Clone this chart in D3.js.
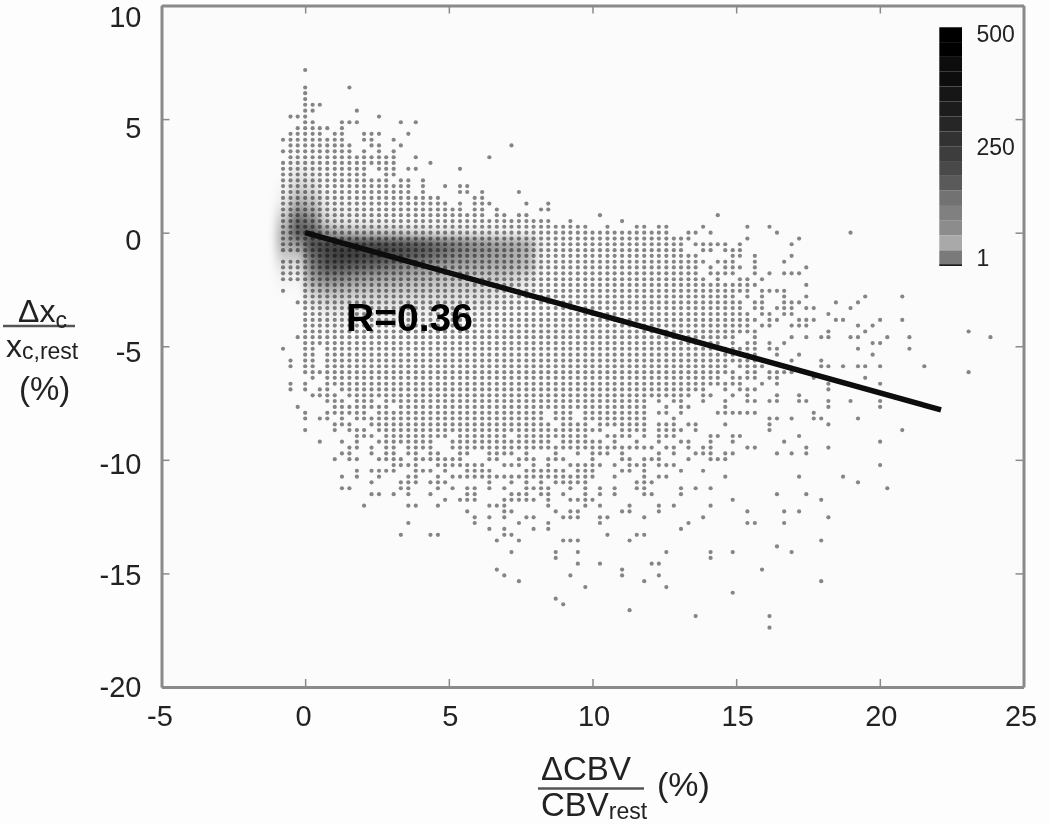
<!DOCTYPE html>
<html lang="en">

<head>
  <meta charset="UTF-8">
  <title>Delta xc vs Delta CBV</title>

  <style>
    html, body {
      margin: 0;
      background-color: #fdfdfd;
    }

    svg {
      display: block;
    }

    text {
      font-family: "Liberation Sans", Arial, sans-serif;
      fill: #222;
    }

    .axis path,
    .axis line {
      stroke: #8a8a8a;
      fill: none;
    }

    .axis path {
      stroke-width: 3;
    }

    .axis line {
      stroke-width: 1.5;
    }

    .axis text {
      font-size: 29px;
    }

    .dot {
      fill: #858585;
    }

    .frac-bar {
      stroke: #555;
      stroke-width: 2.5;
    }
  </style>
</head>

<body>
  <div id="chart"></div>

  <script src="https://d3js.org/d3.v7.min.js"></script>

  <script>
    const xTicks = [-5, 0, 5, 10, 15, 20, 25];
    const yTicks = [10, 5, 0, -5, -10, -15, -20];

    // scatter bins: xBins starts at column -3
    const xBins = [-0.77, -0.51, -0.26, 0, 0.26, 0.51, 0.77, 1.03, 1.28, 1.54, 1.80, 2.05, 2.31, 2.57, 2.82, 3.08,
      3.33, 3.59, 3.85, 4.10, 4.36, 4.62, 4.87, 5.13, 5.39, 5.64, 5.90, 6.16, 6.41, 6.67, 6.93, 7.18, 7.44, 7.70,
      7.95, 8.21, 8.46, 8.72, 8.98, 9.23, 9.49, 9.75, 10.00, 10.26, 10.52, 10.77, 11.03, 11.29, 11.54, 11.80, 12.06,
      12.31, 12.57, 12.83, 13.08, 13.34, 13.59, 13.85, 14.11, 14.36, 14.62, 14.88, 15.13, 15.39, 15.65, 15.90, 16.16,
      16.42, 16.67, 16.93, 17.19, 17.44, 17.70, 17.96, 18.21, 18.47, 18.72, 18.98, 19.24, 19.49, 19.75, 20.01, 20.26,
      20.52, 20.78, 21.03, 21.29, 21.55, 21.80, 22.06, 22.32, 22.57, 22.83, 23.09, 23.34, 23.60, 23.85];

    const yBins = [7.16, 6.90, 6.65, 6.39, 6.14, 5.88, 5.63, 5.37, 5.11, 4.86, 4.60, 4.35, 4.09, 3.84, 3.58, 3.32,
      3.07, 2.81, 2.56, 2.30, 2.05, 1.79, 1.53, 1.28, 1.02, 0.77, 0.51, 0.26, 0, -0.26, -0.51, -0.77, -1.02, -1.28,
      -1.53, -1.79, -2.05, -2.30, -2.56, -2.81, -3.07, -3.32, -3.58, -3.84, -4.09, -4.35, -4.60, -4.86, -5.11, -5.37,
      -5.63, -5.88, -6.14, -6.39, -6.65, -6.90, -7.16, -7.41, -7.67, -7.93, -8.18, -8.44, -8.69, -8.95, -9.20, -9.46,
      -9.72, -9.97, -10.23, -10.48, -10.74, -10.99, -11.25, -11.51, -11.76, -12.02, -12.27, -12.53, -12.78, -13.04,
      -13.30, -13.55, -13.81, -14.06, -14.32, -14.57, -14.83, -15.09, -15.34, -15.60, -15.85, -16.11, -16.36, -16.62,
      -16.88, -17.13, -17.39];

    // filled columns for each y bin, "a:b" is a run of columns
    const filledColumns = [
      "0", "", "", "0 6", "0", "0", "0:2", "0:1 7",
      "-2:0 10",
      "0:1 5:7 13 15",
      "-1:3 5",
      "-2:2 4:5 8:10 14",
      "-3:5 8:9 12",
      "-2:6 9:10 13 28",
      "-3:6 8 10 12",
      "-2:12 15 25",
      "-3:12 17",
      "-3:8 10:12 14:15 21",
      "-3:8 11:12",
      "-3:11 13:14 16",
      "-3:14 16 19 21:22",
      "-3:14 16 21:22 24 29",
      "-3:18 23:24",
      "-3:19 21 23:25 30 33",
      "-3:21 23:24 26 32:33",
      "-3:24 26:27 29:30 40 56",
      "-3:33 36 43",
      "-3:38 41 45:46 48:49 54 60 63",
      "-3:49 52:53 55 64 74",
      "-3:52 60 67",
      "-3:51 53:57 59 66",
      "-3:51 54:55 57:59",
      "0:53 58:59 61 66",
      "-3:54 56:58 61 65",
      "-3:53 55 57:59 61 68",
      "-3:53 55:58 61 63 65:67",
      "-3:54 56 59:60 62",
      "0:61 68",
      "-3 0:60 62:65",
      "0:58 60 62 65 68 76 81",
      "-1 0:59 61:62 65:67 72 75",
      "0:59 61:62 64:66 68:69 74",
      "0:60 62:63 65:66 71",
      "0:61 63:64 67:69 72:73 78 81",
      "0:60 62:63 66:68 75 77",
      "0:61 71 76 90",
      "-1 0:58 61 66 68 70:71 74:75 79 82 93",
      "0:56 58 60:61 63 65 77:78",
      "-3 0:1 3:61 63:64 75 82",
      "0:1 3:61 64 67 77",
      "-2 0:1 3:62 66 70",
      "-2 0:1 3:57 59:62 65 70:71 73 75:76 78 84",
      "0:58 60:61 63:66 90",
      "1 3:56 58:61 63:64 69 76",
      "-2 0 3:59 62 64 71 78",
      "-2 0 2:3 5:54 57 59:61 71",
      "1:4 6:52 54:55 58 60 64 67",
      "3:5 7:9 11:46 48 50:51 54 57 60:61 63:64 67:68 71 74 78",
      "-1 4:11 13:46 49 51:52 57 71 78",
      "0 3:8 10:32 34:36 38:46 48:49 51 56:61 69",
      "0 2:3 5 7:9 10:32 34:36 38:46 50 63:64 66 69:70 75",
      "4:6 9:33 35:38 40:46 48:50 52:53 57 63 71",
      "0 4 6:8 10:40 43:46 48:51 53 63 81",
      "7:9 11:19 21:27 29:38 41:44 46 48:50 55:56 58:59 67",
      "2 5 7 10:17 20:33 35:40 42 45 48 51:52 55 58 65 78",
      "6:7 9 11:12 14:17 20:47 49:50 52 54:55 60:61 68 71",
      "5:6 9 11:12 14:15 17:18 21:22 25:28 30 34 37 39:41 43 48 50 53:55 57:58 64 66 68",
      "4 6:7 10:13 15:21 25:26 29:31 33:35 39 43:44 46:48 52 55:57",
      "12:15 18:24 27:29 31 33 36:40 42 44:46 48:50 78",
      "7 9:12 15:17 19 22:25 30:35 37:39 43:44 46 51 54",
      "5 7 10 14:15 18 20:39 42 46 48:49 57 67 73",
      "9 13:15 17:19 25 28 30 32 34:38 45:47 75",
      "5:6 13:14 18 20 22:23 25 27 30:33 36 38 40 42 45:46 51 53 55 79",
      "9:10 12 14 17 22:23 28:30 32:33 35 38 40 42 46:47 51 64 68",
      "19 21:23 27:31 33 36:39 58 70",
      "8 14:15 18 25:27 33 38 40 44 48 50 55",
      "22 27:28 34 36:37 43:44 48 60 65 67",
      "23 25 27 30:31 35:37 40:41 46 54 71",
      "14 23 29 33 40 52 60:61 65",
      "25 27 31 33 51",
      "13 17:18 27:28 41 45:46",
      "26 29 35:37 44 70",
      "64",
      "28 34 37 49 55 58 66",
      "34 55",
      "37 40 47:48",
      "26 43 62",
      "27 36 43 48",
      "29 46 70",
      "38 49",
      "58",
      "34",
      "35",
      "44",
      "53 63",
      "",
      "63"
    ];

    // counts behind the dots, coarse estimate of the dark cloud
    const cloudX = [-0.75, -0.25, 0.25, 0.75, 1.25, 1.75, 2.25, 2.75, 3.25, 3.75, 4.25, 4.75, 5.25, 5.75, 6.25, 6.75, 7.25, 7.75, 8.25];
    const cloudY = [3, 2.5, 2, 1.5, 1, 0.5, 0, -0.5, -1, -1.5, -2, -2.5, -3, -3.5, -4];
    const cloudCounts = [
      [0, 20, 10, 0, 0, 0, 0, 0, 0, 0, 0, 0, 0, 0, 0, 0, 0, 0, 0],
      [0, 40, 20, 0, 0, 0, 0, 0, 0, 0, 0, 0, 0, 0, 0, 0, 0, 0, 0],
      [10, 70, 50, 0, 0, 0, 0, 0, 0, 0, 0, 0, 0, 0, 0, 0, 0, 0, 0],
      [20, 110, 80, 15, 5, 0, 0, 0, 0, 0, 0, 0, 0, 0, 0, 0, 0, 0, 0],
      [50, 170, 130, 30, 15, 10, 0, 0, 0, 0, 0, 0, 0, 0, 0, 0, 0, 0, 0],
      [90, 240, 200, 60, 30, 20, 15, 10, 0, 0, 0, 0, 0, 0, 0, 0, 0, 0, 0],
      [120, 260, 260, 160, 120, 100, 90, 80, 70, 60, 50, 40, 40, 30, 25, 20, 15, 10, 0],
      [120, 160, 290, 310, 310, 310, 300, 300, 290, 280, 260, 240, 210, 190, 170, 150, 140, 120, 15],
      [80, 90, 240, 300, 320, 320, 310, 300, 290, 270, 250, 220, 190, 170, 160, 150, 130, 110, 10],
      [40, 40, 200, 270, 270, 260, 240, 220, 200, 180, 170, 150, 140, 130, 120, 120, 110, 90, 5],
      [15, 15, 150, 200, 190, 170, 150, 140, 130, 120, 110, 100, 90, 90, 80, 80, 60, 40, 0],
      [5, 5, 80, 120, 110, 100, 90, 90, 80, 80, 70, 70, 60, 60, 50, 40, 30, 15, 0],
      [0, 0, 35, 60, 60, 50, 50, 50, 45, 45, 40, 40, 35, 30, 30, 20, 10, 0, 0],
      [0, 0, 10, 25, 25, 25, 25, 25, 25, 25, 20, 20, 20, 15, 10, 5, 0, 0, 0],
      [0, 0, 0, 10, 10, 10, 10, 10, 10, 10, 10, 10, 5, 5, 0, 0, 0, 0, 0]
    ];

    const fitX = [0, 22.13];
    const fitY = [0, -7.8];

    // colour bar steps from top to bottom
    const barEdges = [515, 482, 449, 416, 383, 350, 316, 283, 250, 217, 184, 151, 117, 84, 51, 18, -15];
    const barGrays = ["#040404", "#060606", "#0a0a0a", "#101010", "#171717", "#1f1f1f", "#272727", "#303030",
      "#3c3c3c", "#4a4a4a", "#5a5a5a", "#727272", "#808080", "#8c8c8c", "#a9a9a9", "#7a7a7a"];
    const barTicks = [500, 250, 1];

    const width = 1050;
    const height = 824;

    const x = d3.scaleLinear().domain([-5, 25]).range([161.5, 1023.5]);
    const y = d3.scaleLinear().domain([-20, 10]).range([687, 5.5]);
    // the y tick labels drift a little from their ticks in the original
    const yLabel = d3.scaleLinear().domain([10, -20]).range([15.7, 686]);
    const bar = d3.scaleLinear().domain([1, 500]).range([258, 34]);
    const barX = [939.3, 962];

    const svg = d3.select('#chart')
      .append('svg')
      .attr('width', width)
      .attr('height', height);

    const defs = svg.append('defs');
    defs.append('filter').attr('id', 'soft')
      .attr('filterUnits', 'userSpaceOnUse')
      .attr('x', 0).attr('y', 0).attr('width', width).attr('height', height)
      .append('feGaussianBlur').attr('stdDeviation', 0.55);
    defs.append('filter').attr('id', 'cloud')
      .attr('filterUnits', 'userSpaceOnUse')
      .attr('x', 0).attr('y', 0).attr('width', width).attr('height', height)
      .append('feGaussianBlur').attr('stdDeviation', 4);

    const root = svg.append('g').attr('filter', 'url(#soft)');

    // plot background
    root.append('rect')
      .attr('x', x(-5))
      .attr('y', y(10))
      .attr('width', x(25) - x(-5))
      .attr('height', y(-20) - y(10))
      .attr('fill', '#fbfbfb');

    // scatter dots
    const points = [];
    filledColumns.forEach((row, r) => {
      row.split(' ').filter(t => t).forEach(tok => {
        const parts = tok.split(':').map(Number);
        const last = parts.length > 1 ? parts[1] : parts[0];
        for (let k = parts[0]; k <= last; k++) {
          points.push({ x: xBins[k + 3], y: yBins[r] });
        }
      });
    });

    root.append('g')
      .selectAll('.dot')
      .data(points)
      .enter()
      .append('circle')
      .classed('dot', true)
      .attr('cx', d => x(d.x))
      .attr('cy', d => y(d.y))
      .attr('r', 2.1);

    // density cloud, multiplied over the dots so they darken inside it
    const cells = cloudCounts.flatMap((row, j) => row.map((c, i) => ({ x: cloudX[i], y: cloudY[j], c })));
    root.append('g')
      .attr('filter', 'url(#cloud)')
      .style('mix-blend-mode', 'multiply')
      .selectAll('rect')
      .data(cells.filter(d => d.c > 0))
      .enter()
      .append('rect')
      .attr('x', d => x(d.x - 0.25))
      .attr('y', d => y(d.y + 0.25))
      .attr('width', x(0.5) - x(0))
      .attr('height', y(0) - y(0.5))
      .attr('fill', '#000')
      .attr('fill-opacity', d => Math.min(0.85, d.c / 420));

    // fit line
    root.append('line')
      .attr('x1', x(fitX[0]))
      .attr('y1', y(fitY[0]))
      .attr('x2', x(fitX[1]))
      .attr('y2', y(fitY[1]))
      .attr('stroke', '#0c0c0c')
      .attr('stroke-width', 5.5);

    root.append('text')
      .attr('x', 346)
      .attr('y', 331)
      .attr('font-size', 39)
      .attr('font-weight', 'bold')
      .style('fill', '#000')
      .text('R=0.36');

    // colour bar
    root.append('g')
      .selectAll('rect')
      .data(barGrays)
      .enter()
      .append('rect')
      .attr('x', barX[0])
      .attr('y', (d, i) => bar(barEdges[i]))
      .attr('width', barX[1] - barX[0])
      .attr('height', (d, i) => bar(barEdges[i + 1]) - bar(barEdges[i]))
      .attr('fill', d => d);

    root.append('line')
      .attr('x1', barX[0])
      .attr('x2', barX[1])
      .attr('y1', bar(-15))
      .attr('y2', bar(-15))
      .attr('stroke', '#111')
      .attr('stroke-width', 1.5);

    root.append('g')
      .selectAll('text')
      .data(barTicks)
      .enter()
      .append('text')
      .attr('x', 976.5)
      .attr('y', d => bar(d))
      .attr('dy', '0.36em')
      .attr('font-size', 23)
      .text(d => d);

    // axes, ticks pointing inward on all four sides
    const axisB = root.append('g').classed('axis', true)
      .attr('transform', `translate(0,${y(-20)})`)
      .call(d3.axisBottom(x).tickValues(xTicks).tickSize(-8).tickSizeOuter(0).tickFormat(d => String(d)));
    axisB.selectAll('text')
      .attr('y', 0)
      .attr('dy', '1.33em')
      .attr('dx', d => d === -5 || d === 0 ? -2 : d === 25 ? -3 : 1);

    const axisL = root.append('g').classed('axis', true)
      .attr('transform', `translate(${x(-5)},0)`)
      .call(d3.axisLeft(y).tickValues(yTicks).tickSize(-8).tickSizeOuter(0).tickFormat(d => String(d)));
    axisL.selectAll('text')
      .attr('x', -20)
      .attr('y', d => yLabel(d) - y(d))
      .attr('dy', '0.36em');

    root.append('g').classed('axis', true)
      .attr('transform', `translate(0,${y(10)})`)
      .call(d3.axisTop(x).tickValues(xTicks).tickSize(-8).tickSizeOuter(0).tickFormat(''));

    root.append('g').classed('axis', true)
      .attr('transform', `translate(${x(25)},0)`)
      .call(d3.axisRight(y).tickValues(yTicks).tickSize(-8).tickSizeOuter(0).tickFormat(''));

    // y title
    const yTitle = root.append('g');
    yTitle.append('line').classed('frac-bar', true)
      .attr('x1', 3).attr('x2', 75).attr('y1', 326).attr('y2', 326);
    yTitle.append('text').attr('x', 18).attr('y', 321.5).attr('font-size', 32)
      .text('Δx').append('tspan').attr('font-size', 23).attr('dy', 6).text('c');
    yTitle.append('text').attr('x', 6).attr('y', 356.5).attr('font-size', 32)
      .text('x').append('tspan').attr('font-size', 23).attr('dy', 2).text('c,rest');
    yTitle.append('text').attr('x', 19).attr('y', 400).attr('font-size', 33).text('(%)');

    // x title
    const xTitle = root.append('g');
    xTitle.append('line').classed('frac-bar', true)
      .attr('x1', 538).attr('x2', 644).attr('y1', 788.5).attr('y2', 788.5);
    xTitle.append('text').attr('x', 541).attr('y', 780).attr('font-size', 33).text('ΔCBV');
    xTitle.append('text').attr('x', 541).attr('y', 816).attr('font-size', 33)
      .text('CBV').append('tspan').attr('font-size', 23).attr('dy', 3).text('rest');
    xTitle.append('text').attr('x', 657).attr('y', 796).attr('font-size', 34).text('(%)');
  </script>
</body>

</html>
